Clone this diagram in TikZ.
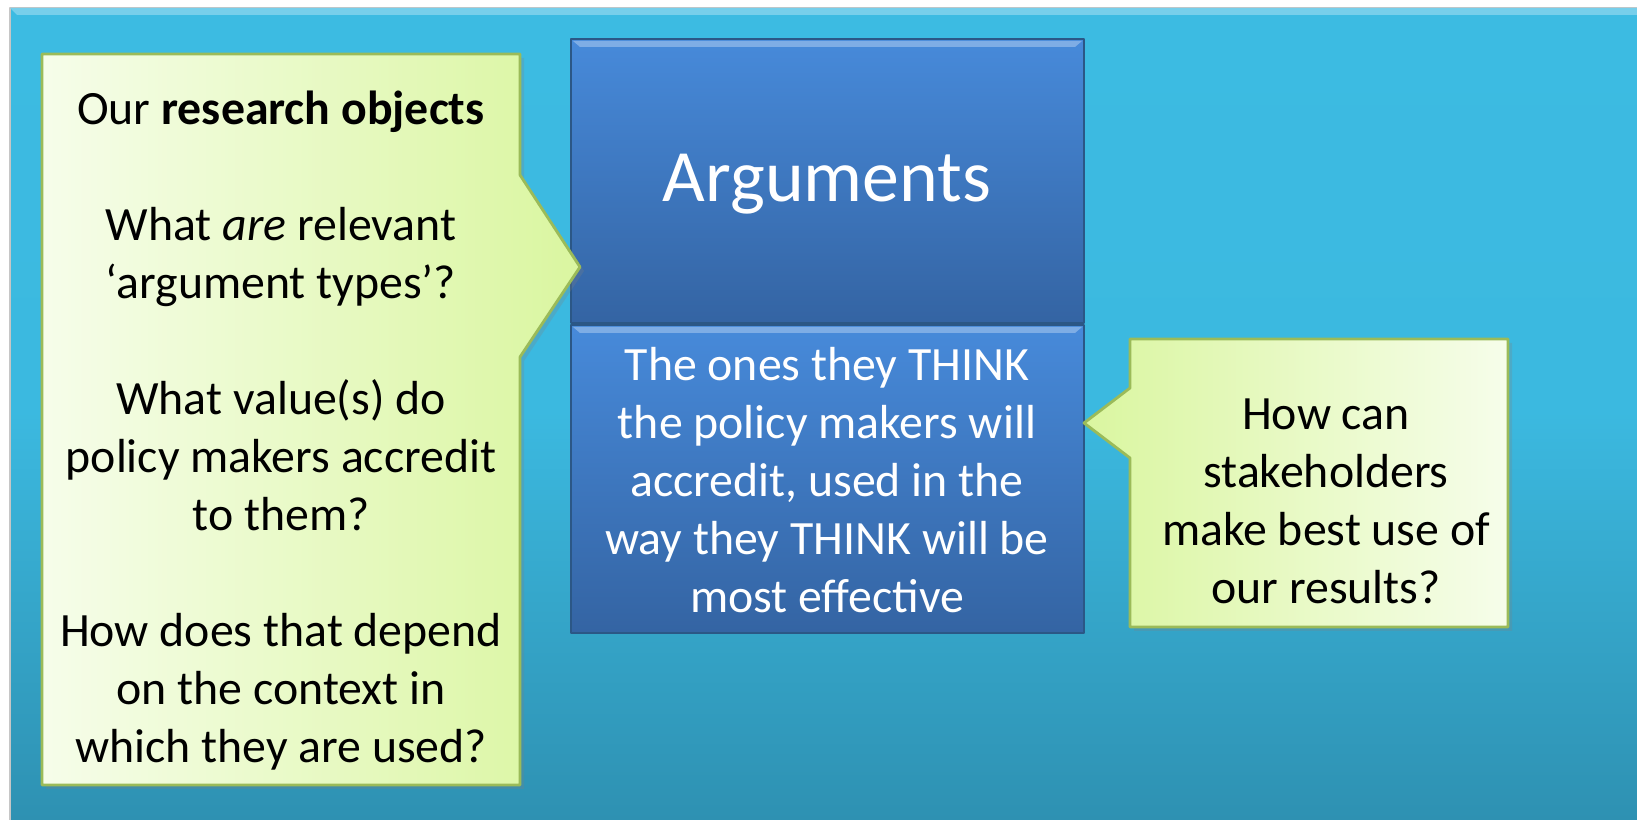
\documentclass[tikz,border=0pt]{standalone}
\usepackage{fontspec}
\setmainfont{Carlito}
\usetikzlibrary{shadows}
\definecolor{bgtop}{HTML}{3CBBE2}
\definecolor{bgbot}{HTML}{2E91B2}
\definecolor{calllight}{HTML}{F6FDEA}
\definecolor{calldark}{HTML}{DAF6A0}
\definecolor{callrim}{HTML}{9BBB59}
\definecolor{boxtop}{HTML}{478ADA}
\definecolor{boxbot}{HTML}{3464A3}
\definecolor{boxrim}{HTML}{2B5786}
\begin{document}
\begin{tikzpicture}[line join=round, line cap=round,
	font=\fontsize{13.6}{16.5}\selectfont,
	callout/.style={draw=callrim, line width=0.8pt, drop shadow={opacity=0.25, shadow xshift=0.04, shadow yshift=-0.04}},
	slab/.style={draw=boxrim, line width=0.6pt, top color=boxtop, bottom color=boxbot},
	bevel/.style={fill=boxtop!70!white}]
		\useasboundingbox (0,0) rectangle (16.37,8.20);
		% background panel
		\shade[top color=bgtop, bottom color=bgbot, middle color=bgtop!95!bgbot] (0.10,0) rectangle (16.37,8.12);
		\draw[gray!45, line width=0.5pt] (0.10,0)--(0.10,8.12)--(16.37,8.12);
		\fill[bgtop!70!white] (0.10,8.12)--(16.37,8.12)--(16.37,8.05)--(0.17,8.05)--cycle;
		% two blue slabs
		\path[slab] (5.71,4.97) rectangle (10.84,7.81);
		\fill[bevel] (5.73,7.79)--(10.82,7.79)--(10.75,7.73)--(5.80,7.73)--cycle;
		\path[slab] (5.71,1.87) rectangle (10.84,4.95);
		\fill[bevel] (5.73,4.93)--(10.82,4.93)--(10.75,4.87)--(5.80,4.87)--cycle;
		% callouts
		\path[callout, left color=calllight, right color=calldark]
			(0.42,0.35)--(0.42,7.66)--(5.20,7.66)--(5.20,6.45)--(5.80,5.53)--(5.20,4.63)--(5.20,0.35)--cycle;
		\path[callout, left color=calldark, right color=calllight]
			(11.30,1.93)--(11.30,3.62)--(10.84,3.97)--(11.30,4.32)--(11.30,4.81)--(15.08,4.81)--(15.08,1.93)--cycle;
		% texts
		\node[align=center] (objects) at (2.81,3.89) {Our \textbf{research objects}\\[16.5pt]
			What \textit{are} relevant\\ ‘argument types’?\\[16.5pt]
			What value(s) do\\ policy makers accredit\\ to them?\\[16.5pt]
			How does that depend\\ on the context in\\ which they are used?};
		\node[white, font=\fontsize{21}{25}\selectfont] (args) at (8.27,6.36) {Arguments};
		\node[white, align=center] (think) at (8.27,3.40) {The ones they THINK\\ the policy makers will\\ accredit, used in the\\ way they THINK will be\\ most effective};
		\node[align=center] (usage) at (13.26,3.19) {How can\\ stakeholders\\ make best use of\\ our results?};
	\end{tikzpicture}
\end{document}
